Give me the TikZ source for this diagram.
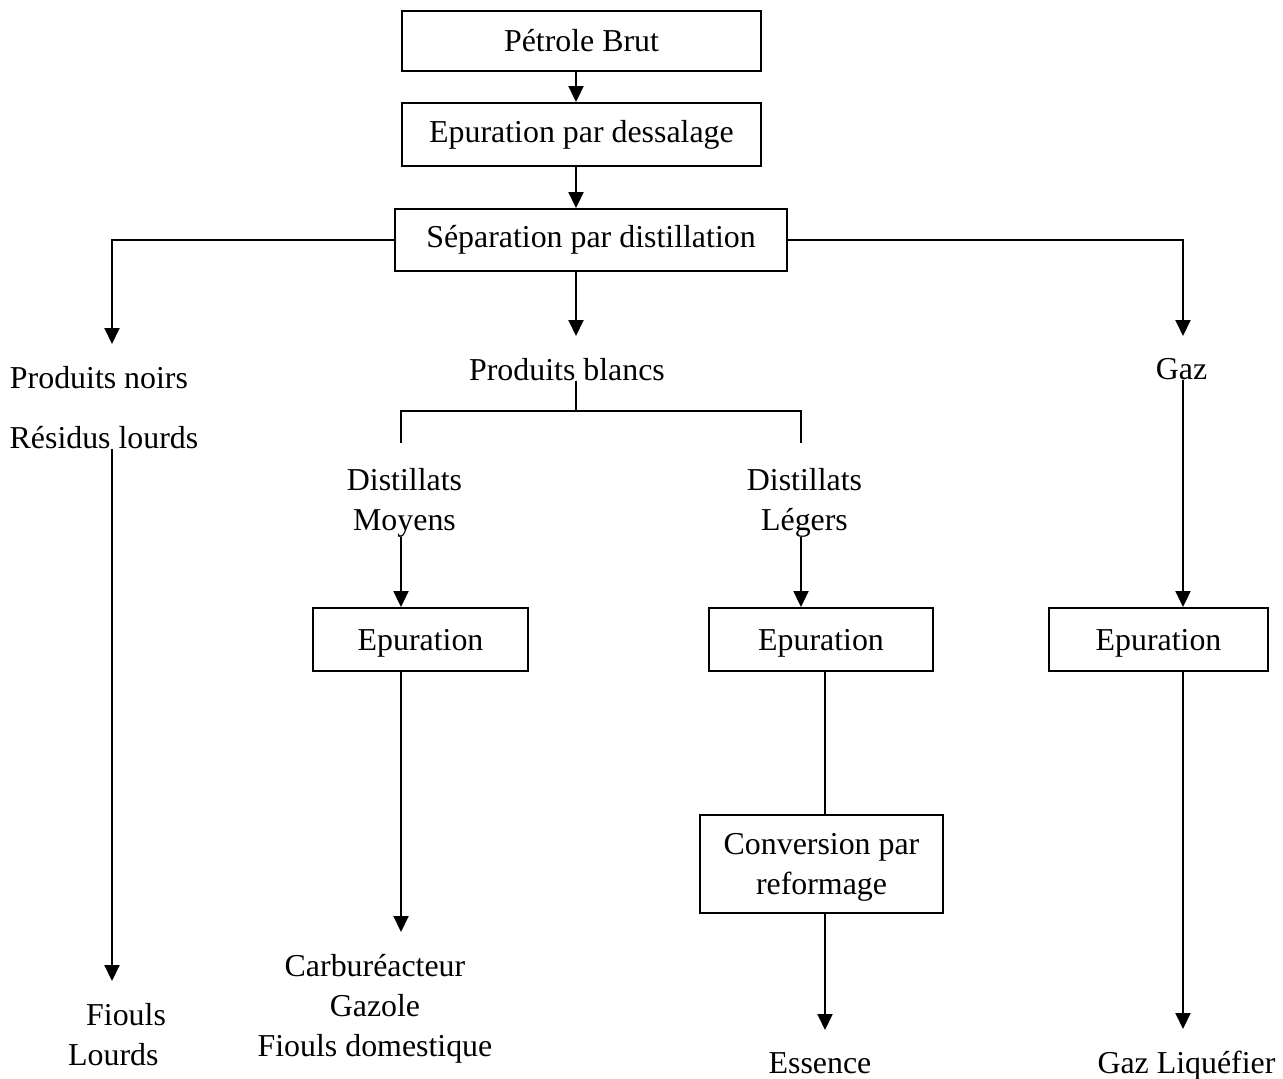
\documentclass[tikz,border=0pt]{standalone}
\usepackage{fontspec}
\setmainfont{Liberation Serif}
\usetikzlibrary{arrows.meta}

\tikzset{
	boite/.style={draw, line width=1.9bp, inner sep=0pt, align=center},
	texte/.style={inner sep=0pt, anchor=north, align=center},
	trait/.style={line width=2bp},
	fleche/.style={trait, -{Triangle[length=16bp, width=15bp]}},
	verstexte/.style={shorten >=22bp},
}

\begin{document}
\begin{tikzpicture}[x=1bp, y=-1bp, font=\fontsize{32}{40}\selectfont]
		\useasboundingbox (0,0) rectangle (1283,1079);
		\coordinate (colA) at (112,0);
		\coordinate (colB) at (576,0);
		\coordinate (colC) at (401,0);
		\coordinate (colD) at (801,0);
		\coordinate (colE) at (825,0);
		\coordinate (colF) at (1183,0);
		\coordinate (fourche) at (576,411);

		\node[boite, minimum width=359bp, minimum height=60bp] (brut) at (581.5,41) {Pétrole Brut};
		\node[boite, minimum width=359bp, minimum height=63bp] (dessal) at (581.5,134.5) {Epuration par dessalage};
		\node[boite, minimum width=392bp, minimum height=62bp] (separ) at (591,240) {Séparation par distillation};
		\foreach \n/\x/\w in {epmoy/420.5/215, epleg/821/224, epgaz/1158.5/219}
			\node[boite, text depth=0pt, minimum width=\w bp, minimum height=63bp] (\n) at (\x,639.5) {Epuration};
		\node[boite, text depth=0pt, minimum width=243bp, minimum height=98bp] (reform) at (821.5,864) {Conversion par\\reformage};

		\node[texte] (noirs) at (99,366) {Produits noirs};
		\node[texte] (residus) at (104,426) {Résidus lourds};
		\node[texte] (blancs) at (567,358) {Produits blancs};
		\node[texte] (gaz) at (1181.5,358) {Gaz};
		\node[texte] (moyens) at (404.5,468) {Distillats\\Moyens};
		\node[texte] (legers) at (804.5,468) {Distillats\\Légers};
		\node[texte, anchor=north west, align=left] (fiouls) at (68,1003) {\hspace*{18bp}Fiouls\\Lourds};
		\node[texte] (carbu) at (375,954) {Carburéacteur\\Gazole\\Fiouls domestique};
		\node[texte] (essence) at (820,1052) {Essence};
		\node[texte] (gpl) at (1186.5,1051) {Gaz Liquéfier};

		\draw[fleche] (brut.south -| colB) -- (dessal.north -| colB);
		\draw[fleche] (dessal.south -| colB) -- (separ.north -| colB);
		\draw[fleche, verstexte] (separ.south -| colB) -- (blancs.north -| colB);
		\draw[fleche, verstexte] (separ.west) -| (noirs.north -| colA);
		\draw[fleche, verstexte] (separ.east) -| (gaz.north -| colF);
		\draw[fleche, verstexte] (residus.south -| colA) -- (fiouls.north -| colA);

		\draw[trait] (blancs.south -| colB) -- (fourche);
		\draw[trait, shorten <=25bp, shorten >=25bp] (moyens.north -| colC) |- (fourche) -| (legers.north -| colD);

		\draw[fleche] (moyens.south -| colC) -- (epmoy.north -| colC);
		\draw[fleche] (legers.south -| colD) -- (epleg.north -| colD);
		\draw[fleche] (gaz.south -| colF) -- (epgaz.north -| colF);
		\draw[fleche, verstexte] (epmoy.south -| colC) -- (carbu.north -| colC);
		\draw[trait] (epleg.south -| colE) -- (reform.north -| colE);
		\draw[fleche, verstexte] (reform.south -| colE) -- (essence.north -| colE);
		\draw[fleche, verstexte] (epgaz.south -| colF) -- (gpl.north -| colF);
\end{tikzpicture}
\end{document}
